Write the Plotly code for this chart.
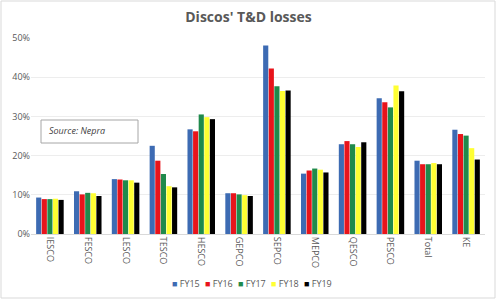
import plotly.graph_objects as go

categories = ["IESCO", "FESCO", "LESCO", "TESCO", "HESCO", "GEPCO", "SEPCO",
              "MEPCO", "QESCO", "PESCO", "Total", "KE"]
fy15 = [9.3, 10.9, 14.0, 22.5, 26.7, 10.4, 48.1, 15.4, 22.9, 34.6, 18.7, 26.6]
fy16 = [8.9, 10.1, 13.9, 18.7, 26.2, 10.4, 42.2, 16.2, 23.7, 33.6, 17.8, 25.5]
fy17 = [8.9, 10.5, 13.7, 15.3, 30.5, 10.1, 37.7, 16.7, 22.9, 32.3, 17.8, 25.1]
fy18 = [9.0, 10.4, 13.7, 12.2, 29.8, 9.9, 36.5, 16.4, 22.2, 37.9, 18.1, 21.9]
fy19 = [8.7, 9.7, 13.1, 11.9, 29.3, 9.7, 36.6, 15.7, 23.4, 36.4, 17.8, 19.0]
series_names = ["FY15", "FY16", "FY17", "FY18", "FY19"]
series_values = [fy15, fy16, fy17, fy18, fy19]
colors = ["#3D6BB3", "#E8141B", "#1F8A4C", "#FFFF33", "#000000"]

fig = go.Figure()
for name, vals, col in zip(series_names, series_values, colors):
    fig.add_trace(go.Bar(
        x=categories, y=[v / 100 for v in vals], name=name,
        marker=dict(color=col, line=dict(width=0)),
    ))

W, H = 497, 300
ml, mr, mt, mb = 31, 12, 38, 66
pw, ph = W - ml - mr, H - mt - mb

def px_x(x):
    return (x - ml) / pw

def px_y(y):
    return (H - mb - y) / ph

gray = "#595959"

# compact legend (Excel style) built from the series names / colours
legend_ann = []
for i, (name, col) in enumerate(zip(series_names, colors)):
    legend_ann.append(dict(
        text=f'<span style="color:{col}">■</span> {name}',
        xref="paper", yref="paper", x=px_x(170 + 33 * i), y=px_y(283),
        xanchor="left", yanchor="middle", showarrow=False,
        font=dict(size=9, color=gray)))

fig.update_layout(
    width=W, height=H,
    margin=dict(l=ml, r=mr, t=mt, b=mb),
    paper_bgcolor="white", plot_bgcolor="white",
    barmode="group", bargap=0.26, bargroupgap=0.08,
    font=dict(family="Open Sans, Arial, sans-serif", size=9, color=gray),
    title=dict(text="<b>Discos' T&amp;D losses</b>", x=0.5, xanchor="center",
               y=1 - 17 / H, yanchor="middle", yref="container",
               font=dict(size=14, color=gray, family="Open Sans, Arial, sans-serif")),
    xaxis=dict(tickangle=90, showgrid=False, showline=True, linecolor="#D9D9D9",
               ticks="", tickfont=dict(size=9, color=gray)),
    yaxis=dict(range=[0, 0.5], dtick=0.1, tickformat=".0%", showgrid=True,
               gridcolor="#EDEDED", zeroline=False, ticks="",
               tickfont=dict(size=9, color=gray)),
    showlegend=False,
    shapes=[
        dict(type="rect", xref="paper", yref="paper",
             x0=px_x(1), x1=px_x(495), y0=px_y(298), y1=px_y(1),
             line=dict(color="#D9D9D9", width=1), layer="below"),
        dict(type="rect", xref="paper", yref="paper",
             x0=px_x(41), x1=px_x(138), y0=px_y(143), y1=px_y(120),
             line=dict(color="#A6A6A6", width=1), fillcolor="white"),
    ],
    annotations=[
        dict(text="<i>Source: Nepra</i>", xref="paper", yref="paper",
             x=px_x(47), y=px_y(130), xanchor="left", yanchor="middle",
             showarrow=False, font=dict(size=9, color="#404040")),
    ] + legend_ann,
)

fig.write_html("out.html")
